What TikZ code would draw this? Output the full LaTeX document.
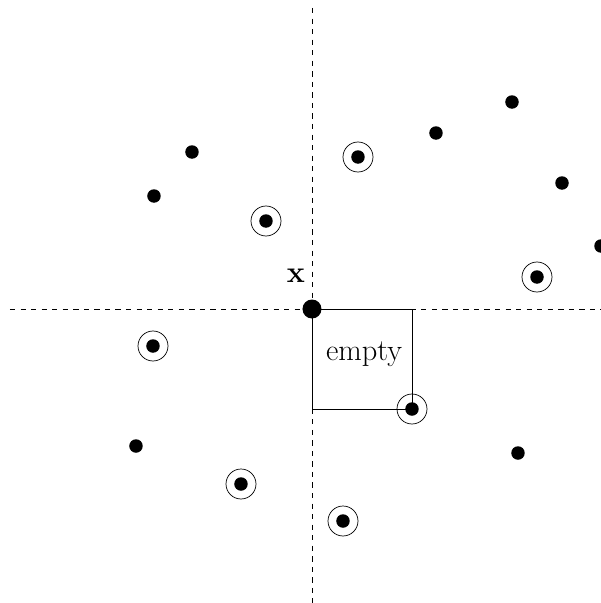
\documentclass[tikz,border=0pt]{standalone}
\usepackage{tikz}
\usetikzlibrary{positioning}

\begin{document}
\begin{tikzpicture}[
  pt/.style={circle,fill=black,inner sep=0pt,minimum size=0.27cm},
  bigpt/.style={circle,fill=black,inner sep=0pt,minimum size=0.38cm},
  ring/.style={circle,draw,inner sep=0pt,minimum size=0.6cm}]
  \useasboundingbox (-6.24,-5.88) rectangle (5.78,6.18);
  \clip (-6.24,-5.88) rectangle (5.78,6.18);
  % axes through x
  \draw[dashed] (-6.04,0) -- (6,0);
  \draw[dashed] (0,6.02) -- (0,-6);
  % the empty square
  \draw[fill=white] (0,0) rectangle (2,-2);
  \node (txt) at (1.04,-0.9) {\LARGE empty};
  \node[bigpt] (x0) at (0,0) {};
  \node (xlab) at (-0.32,0.66) {\LARGE $\mathbf{x}$};
  % plain points
  \node[pt] (a1) at (-2.4,3.14) {};
  \node[pt] (a2) at (-3.16,2.26) {};
  \node[pt] (a3) at (2.48,3.52) {};
  \node[pt] (a4) at (4.0,4.14) {};
  \node[pt] (a5) at (5.0,2.52) {};
  \node[pt] (a6) at (5.78,1.26) {};
  \node[pt] (a7) at (-3.52,-2.74) {};
  \node[pt] (a8) at (4.12,-2.88) {};
  % circled points
  \node[pt] (b1) at (-0.92,1.76) {};   \node[ring] (r1) at (b1) {};
  \node[pt] (b2) at (0.92,3.04) {};    \node[ring] (r2) at (b2) {};
  \node[pt] (b3) at (4.5,0.64) {};     \node[ring] (r3) at (b3) {};
  \node[pt] (b4) at (-3.18,-0.74) {};  \node[ring] (r4) at (b4) {};
  \node[pt] (b5) at (2,-2) {};         \node[ring] (r5) at (b5) {};
  \node[pt] (b6) at (-1.42,-3.5) {};   \node[ring] (r6) at (b6) {};
  \node[pt] (b7) at (0.62,-4.24) {};   \node[ring] (r7) at (b7) {};
\end{tikzpicture}
\end{document}
